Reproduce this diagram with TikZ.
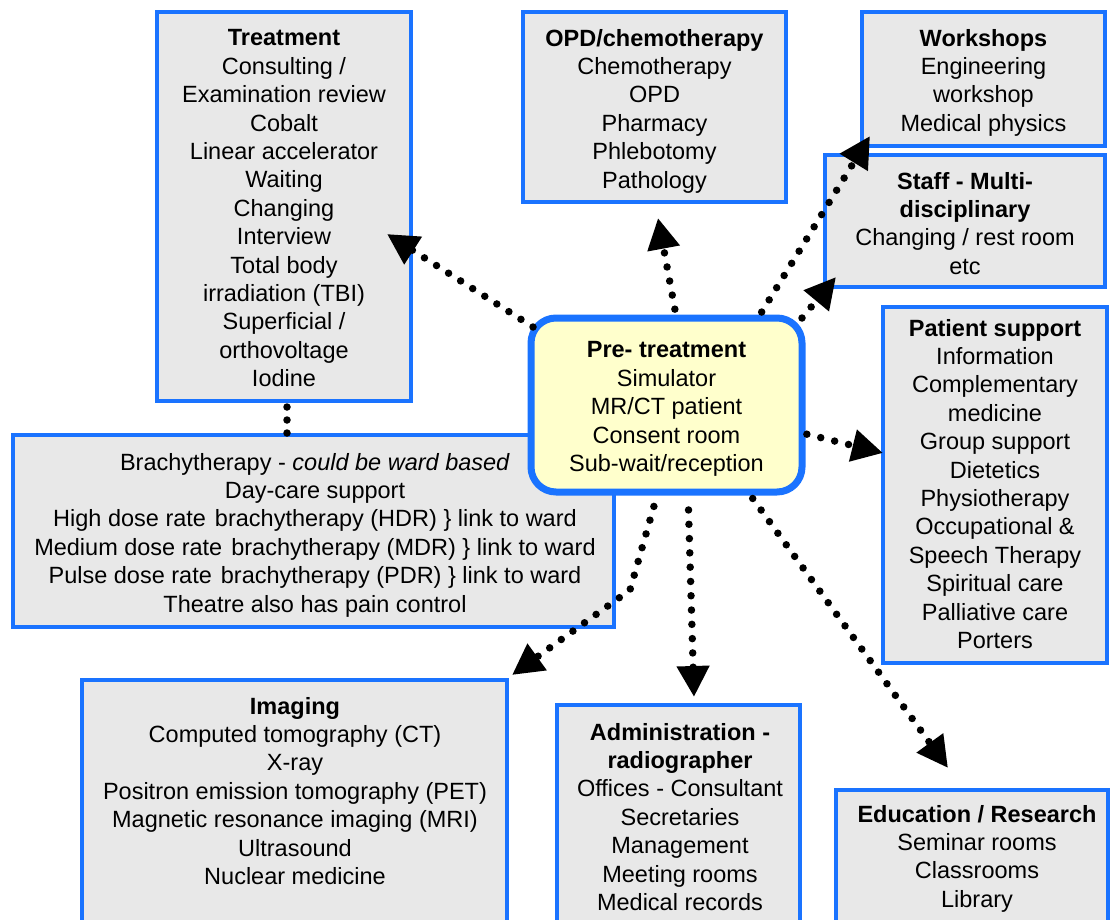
\documentclass[tikz,border=0pt]{standalone}
\usepackage{fontspec}
\setmainfont{Liberation Sans}
\usetikzlibrary{arrows.meta,calc}
\definecolor{boxblue}{RGB}{26,115,255}
\definecolor{boxgray}{RGB}{232,232,232}
\definecolor{hubyellow}{RGB}{255,255,204}

\begin{document}
\begin{tikzpicture}[x=1pt,y=1pt,
  room/.style={draw=boxblue, line width=3.5pt, fill=boxgray, inner sep=0pt,
    outer sep=0pt, anchor=north west},
  hub/.style={draw=boxblue, line width=7pt, fill=hubyellow, rounded corners=25pt,
    inner sep=0pt, outer sep=0pt, anchor=north west},
  roomtext/.style={anchor=north, align=center, inner sep=0pt,
    font=\fontsize{23.5}{28.4}\selectfont},
  flow/.style={line width=7.5pt, line cap=round, dash pattern=on 0pt off 14.3pt,
    -{Triangle[length=31pt,width=31pt]}},
  tie/.style={line width=7.5pt, line cap=round, dash pattern=on 0pt off 13pt},
]
\useasboundingbox (0,0) rectangle (1111,-920);
\clip (0,0) rectangle (1111,-920);

% department boxes
\node[room, minimum width=254pt, minimum height=389pt] (treat) at (157,-12) {};
\node[room, minimum width=263pt, minimum height=190pt] (opd) at (523,-12) {};
\node[room, minimum width=243pt, minimum height=134pt] (work) at (862,-12) {};
\node[room, minimum width=280pt, minimum height=132pt] (staff) at (825,-155) {};
\node[room, minimum width=224pt, minimum height=356pt] (patient) at (883,-307) {};
\node[room, minimum width=601pt, minimum height=192pt] (brachy) at (13,-435) {};
\node[room, minimum width=425pt, minimum height=300pt] (imaging) at (82,-680) {};
\node[room, minimum width=243pt, minimum height=300pt] (admin) at (557,-705) {};
\node[room, minimum width=272pt, minimum height=200pt] (edu) at (836,-790) {};
\node[hub, minimum width=271pt, minimum height=174pt] (pre) at (531,-318) {};

% box contents
\node[roomtext] (treatT) at (284,-25.8) {\strut\textbf{Treatment}\\Consulting /\\Examination review\\Cobalt\\Linear accelerator\\Waiting\\Changing\\Interview\\Total body\\irradiation (TBI)\\Superficial /\\orthovoltage\\Iodine};
\node[roomtext] (opdT) at (654.5,-26) {\strut\textbf{OPD/chemotherapy}\\Chemotherapy\\OPD\\Pharmacy\\Phlebotomy\\Pathology};
\node[roomtext] (workT) at (983.5,-26) {\strut\textbf{Workshops}\\Engineering\\workshop\\Medical physics};
\node[roomtext] (staffT) at (965,-169) {\strut\textbf{Staff - Multi-}\\\textbf{disciplinary}\\Changing / rest room\\etc};
\node[roomtext] (patientT) at (995,-316) {\strut\textbf{Patient support}\\Information\\Complementary\\medicine\\Group support\\Dietetics\\Physiotherapy\\Occupational \&\\Speech Therapy\\Spiritual care\\Palliative care\\Porters};
\node[roomtext] (brachyT) at (315,-450) {\strut Brachytherapy - \textit{could be ward based}\\Day-care support\\High dose rate\hspace{9pt}brachytherapy (HDR) \} link to ward\\Medium dose rate\hspace{9pt}brachytherapy (MDR) \} link to ward\\Pulse dose rate\hspace{9pt}brachytherapy (PDR) \} link to ward\\Theatre also has pain control};
\node[roomtext] (preT) at (666.5,-337.8) {\strut\textbf{Pre- treatment}\\Simulator\\MR/CT patient\\Consent room\\Sub-wait/reception};
\node[roomtext] (imagingT) at (295,-694) {\strut\textbf{Imaging}\\Computed tomography (CT)\\X-ray\\Positron emission tomography (PET)\\Magnetic resonance imaging (MRI)\\Ultrasound\\Nuclear medicine};
\node[roomtext] (adminT) at (680,-720) {\strut\textbf{Administration -}\\\textbf{radiographer}\\Offices - Consultant\\Secretaries\\Management\\Meeting rooms\\Medical records};
\node[roomtext] (eduT) at (977,-802) {\strut\textbf{Education / Research}\\Seminar rooms\\Classrooms\\Library};

% arrow tips
\coordinate (tipTreat) at (387,-234);
\coordinate (tipOpd) at (658,-218);
\coordinate (tipWork) at (870,-136);
\coordinate (tipStaff) at (836,-277);
\coordinate (tipPatient) at (883,-453);
\coordinate (tipEdu) at (948,-768);
\coordinate (tipAdmin) at (694,-697);
\coordinate (bendImg) at (630,-590);
\coordinate (tipImg) at (512,-675);

% dotted links from pre-treatment
\draw[flow] ($(pre.north west)+(2,-9)$) -- (tipTreat);
\draw[flow, shorten <=9pt] ($(pre.north)+(10,0)$) -- (tipOpd);
\draw[flow, shorten <=7pt] ($(pre.north)+(91.5,0)$) -- (tipWork);
\draw[flow] (pre.north east) -- (tipStaff);
\draw[flow, shorten <=5pt] ($(pre.east)+(0,-28)$) -- (tipPatient);
\draw[flow, shorten <=8pt] ($(pre.south)+(81.5,0)$) -- (tipEdu);
\draw[flow, shorten <=18pt] ($(pre.south)+(21.5,0)$) -- (tipAdmin);
\draw[flow, shorten <=15pt] ($(pre.south)+(-8.5,0)$) -- (bendImg) -- (tipImg);

% treatment to brachytherapy
\draw[tie] ([xshift=3pt,yshift=-6pt]treat.south) -- ([xshift=3pt]treat.south |- brachy.north);
\end{tikzpicture}
\end{document}
